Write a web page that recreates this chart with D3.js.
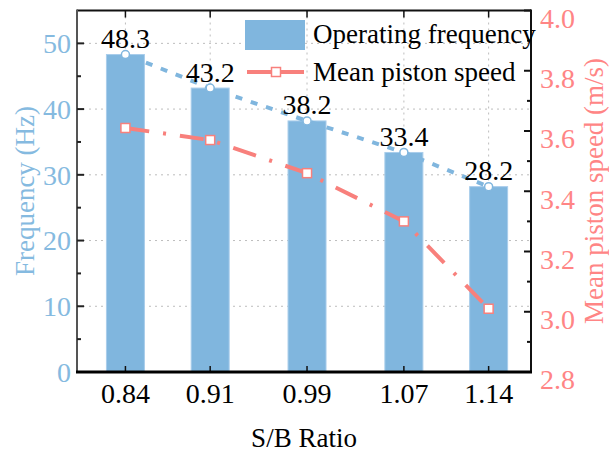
<!DOCTYPE html>
<html>
<head>
<meta charset="utf-8">
<script src="https://cdn.jsdelivr.net/npm/d3@7"></script>
<style>
html,body{margin:0;padding:0;background:#fff;}
svg{display:block;font-family:"Liberation Serif","Times New Roman",serif;}
</style>
</head>
<body>
<svg id="chart" width="609" height="453"></svg>
<script>
const sbRatio = [0.84, 0.91, 0.99, 1.07, 1.14];
const frequency = [48.3, 43.2, 38.2, 33.4, 28.2];
const pistonSpeed = [3.61, 3.57, 3.46, 3.30, 3.01];
const leftTicks = [0, 10, 20, 30, 40, 50];
const rightTicks = [2.8, 3.0, 3.2, 3.4, 3.6, 3.8, 4.0];
const seriesNames = ["Operating frequency", "Mean piston speed"];
const xTitle = "S/B Ratio";
const yLeftTitle = "Frequency (Hz)";
const yRightTitle = "Mean piston speed (m/s)";

const blue = "#80b6de", blueText = "#85bae0";
const red = "#f8807c", redText = "#ff8585";

const svg = d3.select("#chart");
const L = 77, R = 531, T = 10.5, B = 372;
const x = d3.scaleLinear().domain([0.8, 1.175]).range([L, R]);
const yL = d3.scaleLinear().domain([0, 55]).range([B, T]);
const yR = d3.scaleLinear().domain([2.8, 4.0]).range([B, T]);

// grid
const grid = svg.append("g").attr("stroke", "#bdbdbd").attr("stroke-width", 1).attr("stroke-dasharray", "2,4");
grid.selectAll("line.h").data(leftTicks.filter(d => d > 0)).join("line")
  .attr("x1", L).attr("x2", R).attr("y1", d => yL(d)).attr("y2", d => yL(d));
grid.selectAll("line.v").data(sbRatio).join("line")
  .attr("x1", d => x(d)).attr("x2", d => x(d)).attr("y1", T).attr("y2", B);

// bars
const bw = 38;
svg.append("g").selectAll("rect").data(sbRatio).join("rect")
  .attr("x", d => x(d) - bw / 2).attr("width", bw)
  .attr("y", (d, i) => yL(frequency[i])).attr("height", (d, i) => B - yL(frequency[i]))
  .attr("fill", blue).attr("stroke", "#a9cdeb").attr("stroke-width", 1);

// blue dotted line
const pts = sbRatio.map((d, i) => [x(d), yL(frequency[i])]);
svg.append("path").attr("d", d3.line()(pts)).attr("fill", "none")
  .attr("stroke", blue).attr("stroke-width", 4).attr("stroke-dasharray", "7,9")
  .attr("stroke-dashoffset", -6);

// red dash-dot line
const rpts = sbRatio.map((d, i) => [x(d), yR(pistonSpeed[i])]);
svg.append("path").attr("d", d3.line()(rpts)).attr("fill", "none")
  .attr("stroke", red).attr("stroke-width", 4).attr("stroke-dasharray", "24,14,3,14");

// markers
svg.append("g").selectAll("circle").data(pts).join("circle")
  .attr("cx", d => d[0]).attr("cy", d => d[1]).attr("r", 4)
  .attr("fill", "#fff").attr("stroke", blue).attr("stroke-width", 1.5);
svg.append("g").selectAll("rect").data(rpts).join("rect")
  .attr("x", d => d[0] - 4.5).attr("y", d => d[1] - 4.5).attr("width", 9).attr("height", 9)
  .attr("fill", "#fff").attr("stroke", red).attr("stroke-width", 1.5);

// value labels
svg.append("g").selectAll("text").data(pts).join("text")
  .attr("x", d => d[0]).attr("y", d => d[1] - 6.5)
  .attr("text-anchor", "middle").attr("font-size", 28).attr("fill", "#000")
  .text((d, i) => frequency[i].toFixed(1));

// frame & axes
const ax = svg.append("g");
ax.append("line").attr("x1", L).attr("x2", R).attr("y1", T).attr("y2", T).attr("stroke", "#111").attr("stroke-width", 2);
ax.append("line").attr("x1", R).attr("x2", R).attr("y1", T - 1).attr("y2", B).attr("stroke", "#111").attr("stroke-width", 2);
ax.append("line").attr("x1", L).attr("x2", L).attr("y1", T - 1).attr("y2", B).attr("stroke", "#555").attr("stroke-width", 2);

// left ticks (inside)
const lMinor = d3.range(5, 55, 10);
ax.selectAll("line.lt").data(leftTicks).join("line").attr("class", "lt")
  .attr("x1", L).attr("x2", L + 7).attr("y1", d => yL(d)).attr("y2", d => yL(d)).attr("stroke", "#222").attr("stroke-width", 2);
ax.selectAll("line.lm").data(lMinor).join("line").attr("class", "lm")
  .attr("x1", L).attr("x2", L + 4).attr("y1", d => yL(d)).attr("y2", d => yL(d)).attr("stroke", "#222").attr("stroke-width", 2);
ax.selectAll("text.ll").data(leftTicks).join("text").attr("class", "ll")
  .attr("x", L - 6).attr("y", d => yL(d)).attr("dy", "0.35em").attr("text-anchor", "end")
  .attr("font-size", 28).attr("fill", blueText).text(d => d);

// right ticks (inside)
const rMinor = d3.range(2.9, 4.0, 0.2);
ax.selectAll("line.rt").data(rightTicks).join("line").attr("class", "rt")
  .attr("x1", R).attr("x2", R - 7).attr("y1", d => yR(d)).attr("y2", d => yR(d)).attr("stroke", "#111").attr("stroke-width", 2);
ax.selectAll("line.rm").data(rMinor).join("line").attr("class", "rm")
  .attr("x1", R).attr("x2", R - 4).attr("y1", d => yR(d)).attr("y2", d => yR(d)).attr("stroke", "#111").attr("stroke-width", 2);
ax.selectAll("text.rl").data(rightTicks).join("text").attr("class", "rl")
  .attr("x", R + 9).attr("y", d => yR(d) + 7.5).attr("dy", "0.35em").attr("text-anchor", "start")
  .attr("font-size", 28).attr("fill", redText).text(d => d.toFixed(1));

// top & bottom ticks
ax.selectAll("line.tt").data(sbRatio).join("line").attr("class", "tt")
  .attr("x1", d => x(d)).attr("x2", d => x(d)).attr("y1", T).attr("y2", T + 7).attr("stroke", "#111").attr("stroke-width", 1.5);
ax.selectAll("line.bt").data(sbRatio).join("line").attr("class", "bt")
  .attr("x1", d => x(d)).attr("x2", d => x(d)).attr("y1", B).attr("y2", B - 6).attr("stroke", "#111").attr("stroke-width", 1.5);
ax.append("line").attr("x1", L - 1).attr("x2", R + 1).attr("y1", B).attr("y2", B).attr("stroke", "#000").attr("stroke-width", 3);
ax.selectAll("text.bl").data(sbRatio).join("text").attr("class", "bl")
  .attr("x", d => x(d)).attr("y", B + 30.5).attr("text-anchor", "middle")
  .attr("font-size", 28).attr("fill", "#000").text(d => d.toFixed(2));

// axis titles
svg.append("text").attr("x", (L + R) / 2).attr("y", 447).attr("text-anchor", "middle")
  .attr("font-size", 27).attr("fill", "#000").text(xTitle);
svg.append("text").attr("transform", "translate(25,191) rotate(-90)").attr("text-anchor", "middle")
  .attr("dy", "0.35em").attr("font-size", 27).attr("fill", blueText).text(yLeftTitle);
svg.append("text").attr("transform", "translate(594,191) rotate(-90)").attr("text-anchor", "middle")
  .attr("dy", "0.35em").attr("font-size", 27).attr("fill", redText).text(yRightTitle);

// legend
const lg = svg.append("g");
lg.append("rect").attr("x", 245).attr("y", 20).attr("width", 60).attr("height", 30).attr("fill", blue);
lg.append("text").attr("x", 313).attr("y", 43).attr("font-size", 27).attr("fill", "#000").text(seriesNames[0]);
lg.append("line").attr("x1", 247).attr("x2", 304).attr("y1", 72).attr("y2", 72).attr("stroke", red).attr("stroke-width", 4);
lg.append("rect").attr("x", 271.5).attr("y", 67.5).attr("width", 9).attr("height", 9)
  .attr("fill", "#fff").attr("stroke", red).attr("stroke-width", 1.5);
lg.append("text").attr("x", 313).attr("y", 80.5).attr("font-size", 27).attr("fill", "#000").text(seriesNames[1]);
</script>
</body>
</html>
